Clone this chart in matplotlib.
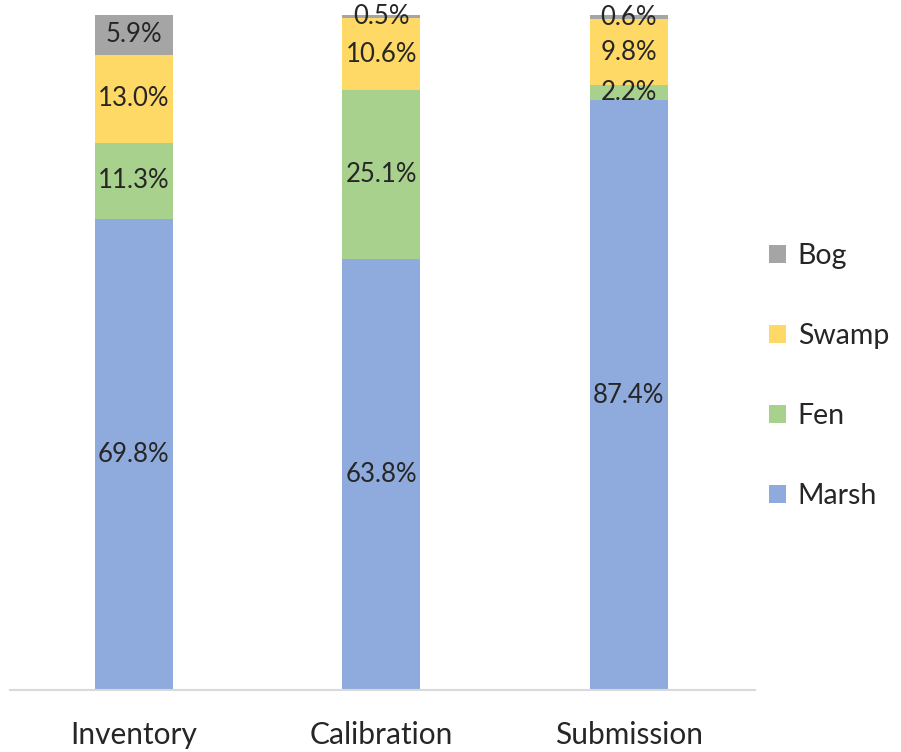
import matplotlib.pyplot as plt
import numpy as np

# Composición por tipo de humedal (%)
categorias = ['Inventory', 'Calibration', 'Submission']
marsh = [69.8, 63.8, 87.4]
fen = [11.3, 25.1, 2.2]
swamp = [13.0, 10.6, 9.8]
bog = [5.9, 0.5, 0.6]

series = [('Marsh', marsh, '#8FAADC'),
          ('Fen', fen, '#A9D18E'),
          ('Swamp', swamp, '#FFD966'),
          ('Bog', bog, '#A5A5A5')]

plt.rcParams['font.family'] = ['Lato', 'DejaVu Sans']

fig = plt.figure(figsize=(9.01, 7.52), dpi=100)
ax = fig.add_axes([10/901, 62/752, 745/901, 675/752])

x = np.arange(len(categorias))
base = np.zeros(len(categorias))
for nombre, valores, color in series:
    valores = np.array(valores)
    ax.bar(x, valores, width=0.315, bottom=base, color=color, label=nombre)
    for xi, b, v in zip(x, base, valores):
        ax.text(xi, b + v/2, f'{v:.1f}%', ha='center', va='center',
                fontsize=18.5, color='#262626')
    base = base + valores

ax.set_xlim(-0.5, 2.51)
ax.set_ylim(0, 100)
ax.set_xticks(x)
ax.set_xticklabels(categorias, fontsize=21.5, color='#262626')
ax.tick_params(axis='x', length=0, pad=22)
ax.set_yticks([])
for lado in ['top', 'right', 'left']:
    ax.spines[lado].set_visible(False)
ax.spines['bottom'].set_color('#D9D9D9')
ax.spines['bottom'].set_linewidth(1.5)

h, l = ax.get_legend_handles_labels()
fig.legend(h[::-1], l[::-1], loc='center left', bbox_to_anchor=(743/901, 0.5),
           frameon=False, fontsize=20.5, labelspacing=1.9, handlelength=0.62,
           handleheight=0.62, handletextpad=0.4, labelcolor='#262626')

fig.savefig('out.png', dpi=100)
